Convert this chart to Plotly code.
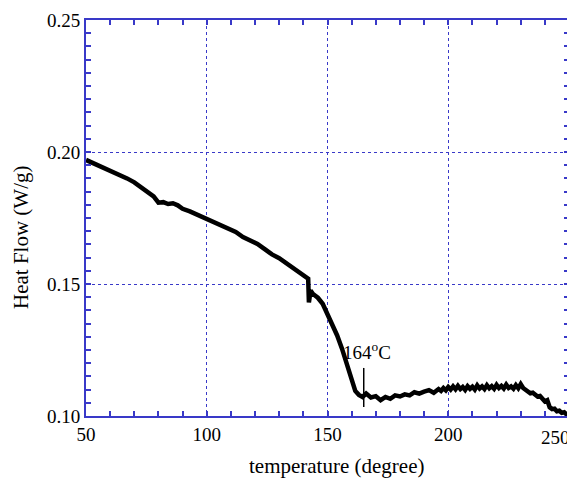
import plotly.graph_objects as go

temperature = [50, 52, 55, 58, 61, 64, 67, 70, 73, 76, 78, 80, 82, 84, 86, 88, 90, 93, 96, 100,
               103, 106, 109, 112, 115, 118, 121, 124, 127, 130, 133, 136, 139, 141, 142, 142.3, 143, 144,
               146, 148, 150, 152, 154, 156, 158, 160, 161.5, 163, 164.5, 166, 168, 170, 172, 174,
               176, 178, 180, 182, 184, 186, 188, 190, 192, 194, 196, 197, 198, 199, 200, 201, 202, 203,
               204, 205, 206, 207, 208, 209, 210, 211, 212, 213, 214, 215, 216, 217, 218, 219,
               220, 221, 222, 223, 224, 225, 226, 227, 228, 229, 230, 231, 232, 233, 234, 235,
               236, 237, 238, 239, 240, 241, 242, 243, 244, 245, 246, 247, 248, 249, 250]
heat_flow = [0.197, 0.1962, 0.1948, 0.1938, 0.1925, 0.1912, 0.190, 0.1885, 0.1865, 0.1845, 0.1832, 0.1808, 0.1810, 0.1803, 0.1806, 0.1798, 0.1785, 0.1775, 0.1762, 0.1745,
             0.1735, 0.1722, 0.1708, 0.1697, 0.1678, 0.1665, 0.1652, 0.1632, 0.1612, 0.1598, 0.1578, 0.1562, 0.1540, 0.1528, 0.1520, 0.1430, 0.1475, 0.1462,
             0.1448, 0.1425, 0.1388, 0.1350, 0.1305, 0.1255, 0.1195, 0.1130, 0.1095, 0.1080, 0.1072, 0.1085, 0.1070, 0.1075, 0.1060, 0.1072,
             0.1065, 0.1078, 0.1074, 0.1082, 0.1078, 0.1090, 0.1085, 0.1092, 0.1098, 0.1088, 0.1102, 0.1095, 0.1106, 0.1097, 0.1110, 0.1100, 0.1112, 0.1101,
             0.1114, 0.1102, 0.1110, 0.1099, 0.1113, 0.1103, 0.1111, 0.1100, 0.1116, 0.1104, 0.1112, 0.1102, 0.1117, 0.1105, 0.1113, 0.1103,
             0.1118, 0.1106, 0.1114, 0.1104, 0.1119, 0.1106, 0.1112, 0.1103, 0.1117, 0.1105, 0.1121, 0.1106, 0.1098, 0.1092, 0.1086, 0.1088,
             0.1078, 0.1074, 0.1076, 0.1064, 0.1055, 0.1060, 0.1033, 0.1026, 0.1028, 0.1018, 0.1020, 0.1012, 0.1014, 0.1006, 0.1003]

x_ticks = [50, 100, 150, 200, 250]
y_ticks = [0.10, 0.15, 0.20, 0.25]

onset_temp = 165
onset_label = "164<sup>o</sup>C"

blue = "#3939c8"
font_fam = "Liberation Serif, Times New Roman, serif"

fig = go.Figure()
fig.add_trace(go.Scatter(x=temperature, y=heat_flow, mode="lines",
                         line=dict(color="black", width=4.5), showlegend=False))

fig.add_shape(type="line", x0=onset_temp, x1=onset_temp, y0=0.1034, y1=0.1182,
              line=dict(color="black", width=1.5))
fig.add_annotation(x=onset_temp + 1.5, y=0.1245, text=onset_label, showarrow=False,
                   font=dict(family=font_fam, size=19, color="black"))

# last x tick label, nudged left so it stays inside the window
fig.add_annotation(x=x_ticks[-1], y=0.10, yref="y", xref="x", yshift=-21, xshift=-14,
                   text=str(x_ticks[-1]), showarrow=False, yanchor="middle",
                   font=dict(family=font_fam, size=19, color="black"))

# axis titles
fig.add_annotation(xref="paper", yref="paper", x=0.5, y=0, yshift=-50, xshift=9,
                   text="temperature (degree)", showarrow=False, yanchor="middle",
                   font=dict(family=font_fam, size=21, color="black"))
fig.add_annotation(xref="paper", yref="paper", x=0, y=0.5, xshift=-65, yshift=-20,
                   text="Heat Flow (W/g)", showarrow=False, textangle=-90, xanchor="center",
                   font=dict(family=font_fam, size=21, color="black"))

axis_common = dict(showline=True, linecolor=blue, linewidth=2, mirror="allticks",
                   ticks="inside", ticklen=5, tickcolor=blue, tickwidth=1.5,
                   showgrid=True, gridcolor=blue, gridwidth=1.2, griddash="dot",
                   zeroline=False, automargin=False,
                   tickfont=dict(family=font_fam, size=19, color="black"))

fig.update_xaxes(range=[50, 250], tickvals=x_ticks,
                 ticktext=[str(v) for v in x_ticks[:-1]] + [""],
                 minor=dict(dtick=10, ticks="inside", ticklen=5, tickcolor=blue, showgrid=False),
                 **axis_common)
fig.update_yaxes(range=[0.10, 0.25], tickvals=y_ticks,
                 ticktext=[f"{v:.2f}" for v in y_ticks],
                 minor=dict(dtick=0.005, ticks="inside", ticklen=5, tickcolor=blue, showgrid=False),
                 **axis_common)

# page body adds an 8px offset, so the figure is sized to fit the 575x479 window
fig.update_layout(width=567, height=471, margin=dict(l=78, r=6, t=12, b=63),
                  plot_bgcolor="white", paper_bgcolor="white")

fig.write_html("out.html")
